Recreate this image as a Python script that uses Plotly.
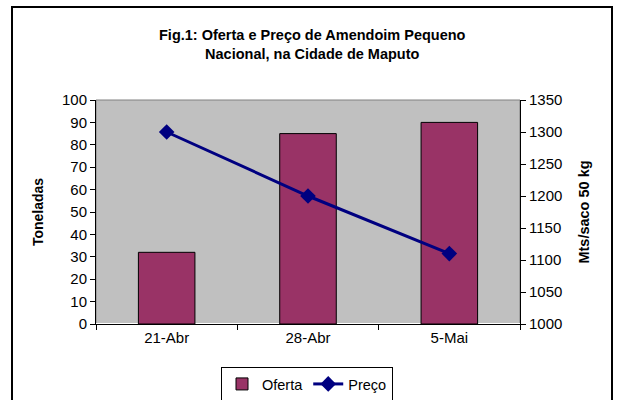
import plotly.graph_objects as go

categories = ["21-Abr", "28-Abr", "5-Mai"]
oferta = [32, 85, 90]
preco = [1300, 1200, 1110]

L, R, T, B = 96, 520, 99.5, 324.5
W, H = 618, 400
def px(x): return (x - L) / (R - L)
def py(y): return (B - y) / (B - T)

FAM = "Arial, Liberation Sans, sans-serif"
fig = go.Figure()
fig.add_trace(go.Bar(x=categories, y=oferta, name="Oferta", width=0.4,
                     marker=dict(color="#993366", line=dict(color="black", width=1)),
                     yaxis="y"))
fig.add_trace(go.Scatter(x=categories, y=preco, name="Preço", mode="lines+markers",
                         line=dict(color="#000080", width=3),
                         marker=dict(symbol="diamond", size=12, color="#000080"),
                         yaxis="y2"))

font = dict(family=FAM, size=15, color="black")
fig.update_layout(
    width=W, height=H,
    margin=dict(l=L, r=W - R, t=T, b=H - B, autoexpand=False),
    paper_bgcolor="white", plot_bgcolor="#C0C0C0",
    font=font,
    showlegend=True,
    legend=dict(orientation="h", xref="container", yref="container",
                x=307 / W, xanchor="center", y=1 - 384 / H, yanchor="middle",
                bordercolor="black", borderwidth=1, bgcolor="white",
                font=dict(family=FAM, size=14.5, color="black"),
                itemwidth=30, tracegroupgap=0),
    xaxis=dict(showline=True, linecolor="black", linewidth=1, ticks="outside",
               tickson="boundaries", ticklen=5, tickcolor="black", showgrid=False,
               tickfont=font, automargin=False),
    yaxis=dict(range=[0, 100], dtick=10, showline=True, linecolor="black", linewidth=1,
               ticks="outside", ticklen=5, tickcolor="black", showgrid=False,
               tickfont=font, automargin=False,
               title=dict(text="<b>Toneladas</b>", font=dict(size=14, family=FAM, color="black"), standoff=15)),
    yaxis2=dict(range=[1000, 1350], dtick=50, overlaying="y", side="right",
                showline=True, linecolor="black", linewidth=1, ticks="outside",
                ticklen=5, tickcolor="black", showgrid=False, tickfont=font, automargin=False,
                title=dict(text="<b>Mts/saco 50 kg</b>", font=dict(size=14.5, family=FAM, color="black"), standoff=17)),
    bargap=0.6,
)

fig.add_annotation(text="<b>Fig.1: Oferta e Preço de Amendoim Pequeno<br>Nacional, na Cidade de Maputo</b>",
                   xref="paper", yref="paper", x=px(312), y=py(44), xanchor="center", yanchor="middle",
                   showarrow=False, font=dict(family=FAM, size=14.5, color="black"))

# outer chart border
fig.add_shape(type="rect", xref="paper", yref="paper",
              x0=px(12), x1=px(612), y0=py(410), y1=py(6),
              line=dict(color="black", width=2), layer="below")
# plot area border
fig.add_shape(type="rect", xref="paper", yref="paper", x0=0, x1=1, y0=0, y1=1,
              line=dict(color="#808080", width=1), layer="below")

fig.write_html("out.html", config={"displayModeBar": False},
               post_script="document.body.style.margin='0';")
